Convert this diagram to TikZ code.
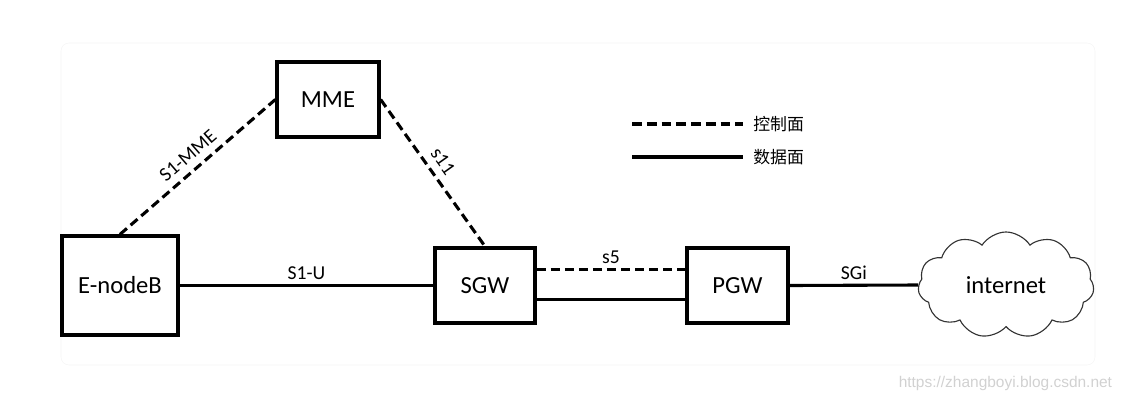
\documentclass[tikz,border=0pt]{standalone}
\usepackage{fontspec}
\setmainfont{Carlito}
\newfontfamily\cjk{Noto Sans CJK SC}
\newfontfamily\wmfont{Liberation Sans}
\usetikzlibrary{shapes.symbols}

\tikzset{
    netbox/.style={draw, line width=2.3pt, font=\fontsize{17.5}{20}\selectfont},
    ctrl/.style={line width=2.2pt, dash pattern=on 6.5pt off 3.5pt},
    data/.style={line width=2.2pt},
    lbl/.style={font=\fontsize{14}{16}\selectfont, inner sep=1pt},
}

\begin{document}
\begin{tikzpicture}[x=0.025cm, y=-0.025cm]
    %% Background
    \useasboundingbox (0,0) rectangle (1125,402);
    \draw[black!4, rounded corners=2mm] (61,43) rectangle (1095,365);

    %% Network elements
    \node[netbox, minimum width=2.55cm, minimum height=1.875cm] (mme) at (328,99.5) {MME};
    \node[netbox, minimum width=2.9cm, minimum height=2.475cm] (enb) at (120,285.5) {E-nodeB};
    \node[netbox, minimum width=2.5cm, minimum height=1.875cm] (sgw) at (485,285.5) {SGW};
    \node[netbox, minimum width=2.525cm, minimum height=1.875cm] (pgw) at (737.5,285.5) {PGW};
    \node[cloud, draw=black!80, line width=0.8pt, cloud puffs=11, cloud puff arc=115, aspect=1.7,
          minimum width=4.4cm, minimum height=2.65cm, font=\fontsize{17.5}{20}\selectfont] (net) at (1006,285) {internet};

    %% Control plane
    \draw[ctrl] (enb.north) -- node[lbl, sloped, above=4pt, pos=0.5] {S1-MME} (mme.west);
    \draw[ctrl] (mme.east) -- node[lbl, sloped, above=4pt, pos=0.48] {s11} (sgw.north);
    \draw[ctrl] ([yshift=3.9mm]sgw.east) -- node[lbl, above=2pt] {s5} ([yshift=3.9mm]pgw.west);

    %% Data plane
    \draw[data] (enb.east) -- node[lbl, above=2pt] {S1-U} (sgw.west);
    \draw[data] ([yshift=-3.6mm]sgw.east) -- ([yshift=-3.6mm]pgw.west);
    \draw[data] (pgw.east) -- node[lbl, above=2pt] {SGi} (net.west);

    %% Legend
    \node[anchor=west, inner sep=0pt, font=\cjk\fontsize{12}{14}\selectfont] (lctrl) at (753,124) {控制面};
    \node[anchor=west, inner sep=0pt, font=\cjk\fontsize{12}{14}\selectfont] (ldata) at (753,157) {数据面};
    \coordinate (cstart) at (632,124);
    \coordinate (dstart) at (632,157);
    \draw[ctrl, dash pattern=on 7pt off 3.5pt] (cstart) -- ([xshift=-2.5mm]lctrl.west);
    \draw[data] (dstart) -- ([xshift=-2.5mm]ldata.west);

    %% Watermark
    \node[anchor=east, text=black!18, font=\wmfont\fontsize{11}{13}\selectfont] (wm) at (1117,383) {https://zhangboyi.blog.csdn.net};
\end{tikzpicture}
\end{document}
